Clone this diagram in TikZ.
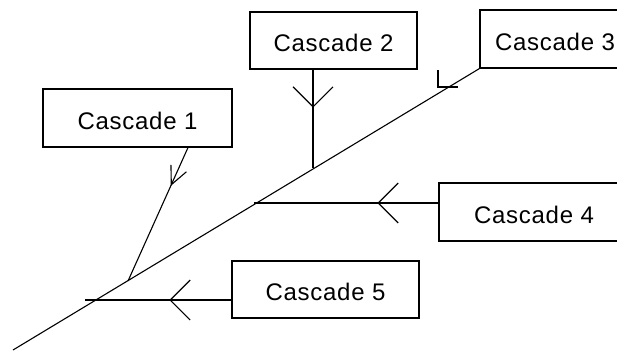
\documentclass[tikz,border=0pt]{standalone}
\usepackage{fontspec}
\setsansfont[LetterSpace=3]{Liberation Sans}
\usetikzlibrary{arrows.meta,decorations.markings}

\begin{document}
\begin{tikzpicture}[x=1pt,y=-1pt,
    cascade/.style ={draw, line width=1.1pt, inner sep=0pt, text height=22pt, text depth=0pt,
      font=\sffamily\fontsize{24}{28}\selectfont},
    branch/.style ={line width=1.1pt},
    midtip/.style ={postaction={decorate}, decoration={markings,
      mark=at position #1 with {\arrow{Straight Barb[length=20pt,width=40pt,line width=1.1pt]}}}},
    smalltip/.style ={postaction={decorate}, decoration={markings,
      mark=at position #1 with {\arrow{Straight Barb[length=18pt,width=17pt,line width=1.1pt]}}}}]
   \useasboundingbox (0,0) rectangle (617,354);
   \clip (0,0) rectangle (617,354);
   \node[cascade, minimum width=189pt, minimum height=58pt] (c1) at (137.5,118)  {Cascade 1};
   \node[cascade, minimum width=167pt, minimum height=57pt] (c2) at (333.5,40.5) {Cascade 2};
   \node[cascade, minimum width=150pt, minimum height=58pt] (c3) at (555,39)     {Cascade 3};
   \node[cascade, minimum width=190pt, minimum height=58pt] (c4) at (534,212)    {Cascade 4};
   \node[cascade, minimum width=187pt, minimum height=57pt] (c5) at (325.5,289.5) {Cascade 5};
   \coordinate (tail) at (13,350);
   \coordinate (j1) at (128,281);
   \coordinate (j2) at (313,168);
   \coordinate (j4) at (254,203);
   \coordinate (j5) at (85,300);
   \draw[branch] (tail) to (c3.south west);
   \draw[branch, smalltip=42pt] ([xshift=50.5pt]c1.south) to (j1);
   \draw[branch, midtip=38pt] (c2.south -| j2) to (j2);
   \draw[branch, midtip=61pt] (c4.west |- j4) to (j4);
   \draw[branch, midtip=62pt] (c5.west |- j5) to (j5);
   \draw[branch] (438,70) -- (438,87) -- (458,87);
 \end{tikzpicture}
\end{document}
